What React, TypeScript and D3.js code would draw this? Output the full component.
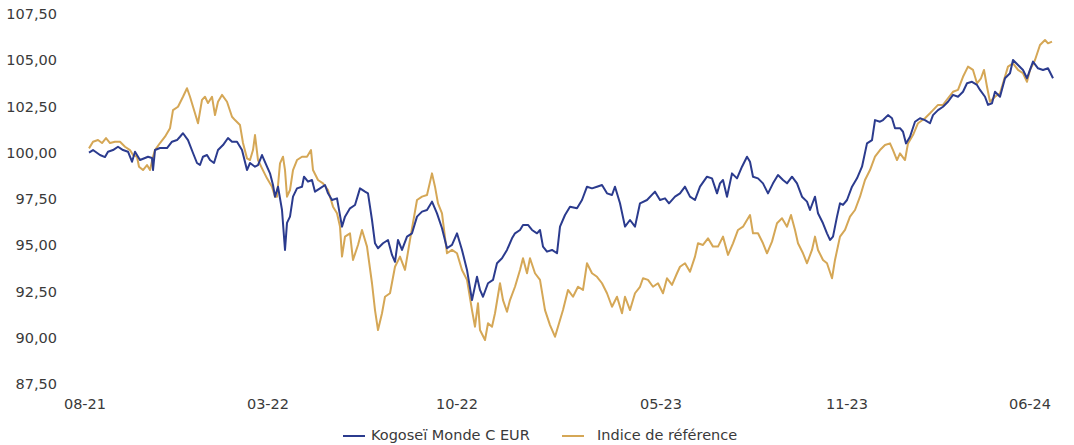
import React from "react";
import * as d3 from "d3";

// Category/tick labels on the time axis (position in days from start)
const tickLabels = ["08-21", "03-22", "10-22", "05-23", "11-23", "06-24"];
const tickDays = [0, 183, 372, 576, 762, 945];

// Y axis ticks
const yTicks = [87.5, 90, 92.5, 95, 97.5, 100, 102.5, 105, 107.5];

// Fund series: Kogoseï Monde C EUR
const fundDays = [4,8,15,20,23,28,33,38,43,47,50,55,60,63,67,68,70,75,82,87,92,95,98,103,108,112,115,118,122,125,129,133,138,143,147,152,157,162,165,170,173,177,182,185,188,190,193,197,200,202,205,208,212,217,219,223,227,230,235,240,243,247,252,257,260,265,270,275,280,283,287,290,293,298,303,307,310,313,317,322,327,332,337,342,347,352,357,362,367,372,377,382,387,392,395,398,403,408,412,417,422,427,430,435,438,443,447,452,455,458,462,467,472,475,480,485,492,497,502,507,512,517,522,527,530,535,540,545,550,555,562,570,575,580,584,590,595,600,605,610,615,622,627,632,635,638,642,647,652,657,662,665,668,673,678,683,688,693,698,702,707,712,717,722,725,730,733,738,742,745,748,752,755,758,762,767,772,777,782,787,790,795,798,803,807,810,815,818,821,825,830,835,840,845,848,853,858,863,868,873,878,882,887,892,895,900,903,907,910,915,920,925,928,933,938,942,945,948,953,958,963,968];
const fundValues = [100.06,100.2,99.93,99.82,100.11,100.2,100.38,100.2,100.11,99.57,100.11,99.66,99.77,99.84,99.77,99.12,100.2,100.31,100.31,100.65,100.74,100.92,101.11,100.74,100.04,99.5,99.39,99.84,99.93,99.66,99.5,100.2,100.47,100.85,100.65,100.65,100.2,99.12,99.5,99.3,99.39,99.93,99.3,98.94,98.31,97.68,98.22,96.96,94.8,96.26,96.6,97.68,98.13,98.22,98.76,98.49,98.58,97.95,98.13,98.31,97.86,97.5,97.59,96.06,96.6,97.05,97.23,98.13,97.95,97.86,96.42,95.16,94.89,95.16,95.34,94.53,94.16,95.34,94.8,95.52,95.7,96.6,96.87,96.96,97.41,96.78,95.97,94.89,95.07,95.7,94.8,93.72,92.09,93.35,92.64,92.27,93.0,93.18,94.08,94.35,94.8,95.43,95.7,95.88,96.15,96.15,95.88,95.7,95.88,94.98,94.71,94.8,94.62,96.06,96.69,97.14,97.05,97.5,98.22,98.13,98.22,98.31,97.86,97.77,98.22,97.32,96.06,96.42,96.06,97.32,97.5,97.95,97.5,97.59,97.32,97.68,97.86,98.22,97.68,97.5,98.22,98.76,98.67,97.86,98.4,98.58,97.68,98.94,98.67,99.3,99.84,99.57,98.76,98.67,98.4,97.86,98.4,98.85,98.58,98.4,98.76,98.4,97.68,97.41,96.96,97.68,96.78,96.24,95.7,95.34,95.52,96.6,97.32,97.23,97.5,98.22,98.67,99.3,100.56,100.74,101.82,101.73,101.82,102.09,101.92,101.38,101.38,101.19,100.56,100.92,101.73,101.92,101.82,101.65,102.09,102.36,102.54,102.81,103.18,103.08,103.35,103.81,103.89,103.72,103.45,103.08,102.64,102.73,103.35,103.08,104.08,104.35,105.07,104.8,104.53,104.08,104.53,104.98,104.62,104.53,104.62,104.08];

// Benchmark series: Indice de référence
const indexDays = [4,8,13,17,21,25,30,35,40,45,48,52,54,58,62,65,68,70,75,80,85,88,93,98,102,105,110,113,117,120,123,127,130,133,137,142,147,150,155,158,162,165,168,170,173,177,182,187,190,192,195,198,200,202,205,208,212,217,222,226,228,233,238,243,248,252,255,257,260,265,268,273,277,282,287,290,293,297,300,305,310,315,320,325,332,337,342,347,350,353,357,362,367,372,377,382,387,390,393,395,400,403,407,410,415,418,422,425,430,435,438,442,445,450,455,460,465,470,473,478,483,488,493,498,502,507,512,517,522,527,532,537,540,545,550,555,558,563,568,573,578,582,587,592,595,600,605,610,613,618,623,628,633,638,643,648,653,658,662,665,668,673,678,682,687,692,697,702,706,710,713,718,722,727,730,733,738,742,747,750,755,760,765,770,775,780,785,790,795,800,805,808,812,815,820,823,828,833,840,845,848,853,858,863,868,873,878,883,888,892,896,899,902,905,910,915,918,923,928,933,938,942,945,950,955,960,963,967];
const indexValues = [100.29,100.65,100.74,100.58,100.85,100.58,100.65,100.65,100.38,100.2,99.93,99.84,99.3,99.12,99.39,99.12,99.84,100.2,100.58,100.92,101.38,102.36,102.54,103.08,103.54,103.08,102.19,101.65,102.91,103.08,102.74,103.08,102.09,102.81,103.18,102.81,102.0,101.82,101.55,100.58,99.75,99.66,100.2,101.01,99.66,99.21,98.67,98.22,97.68,97.68,99.48,99.84,99.12,97.68,98.04,99.12,99.66,99.84,99.84,100.2,99.12,98.58,98.4,98.04,97.14,96.78,96.06,94.44,95.52,95.7,94.26,95.07,95.88,94.98,93.0,91.55,90.47,91.38,92.27,92.46,93.89,94.44,93.72,95.34,97.5,97.68,97.77,98.94,98.22,97.32,96.78,94.62,94.8,94.62,93.72,93.18,91.55,90.65,91.92,90.47,89.93,90.84,90.65,91.38,93.0,92.09,91.46,92.09,92.81,93.72,94.35,93.54,94.35,93.54,93.18,91.55,90.74,90.11,90.65,91.55,92.64,92.27,92.81,92.64,94.08,93.54,93.35,93.0,92.46,91.73,92.27,91.38,92.27,91.55,92.46,92.81,93.27,93.18,92.81,93.0,92.46,93.27,92.91,93.54,93.89,94.08,93.62,94.44,95.16,95.07,95.43,94.98,94.98,95.52,94.53,95.16,95.88,96.06,96.42,96.69,95.7,95.7,95.16,94.62,95.25,96.24,96.51,96.06,96.69,95.88,95.16,94.62,94.08,94.8,95.52,94.8,94.26,94.08,93.27,94.26,95.52,95.88,96.6,96.96,97.68,98.58,99.12,99.84,100.2,100.47,100.56,100.2,99.66,100.02,99.66,100.56,101.01,101.65,101.92,102.19,102.36,102.64,102.64,103.0,103.35,103.45,104.16,104.71,104.53,103.81,104.08,104.53,103.62,102.81,103.08,103.27,103.81,104.71,104.89,104.53,104.35,103.89,104.53,105.07,105.88,106.15,105.97,106.06];

const seriesNames = ["Kogoseï Monde C EUR", "Indice de référence"];
const seriesColors = ["#2B3B8E", "#D5A756"];

const W = 1074;
const H = 445;
const FONT = "'DejaVu Sans', sans-serif";

export default function App() {
  const x = d3.scaleLinear().domain([0, 1000]).range([85, 1085]);
  const y = d3.scaleLinear().domain([87.5, 107.5]).range([385, 15]);

  const line = d3
    .line<[number, number]>()
    .x((d) => x(d[0]))
    .y((d) => y(d[1]))
    .curve(d3.curveLinear);

  const fund: [number, number][] = fundDays.map((d, i) => [d, fundValues[i]]);
  const bench: [number, number][] = indexDays.map((d, i) => [d, indexValues[i]]);

  const fmt = (v: number) => v.toFixed(2).replace(".", ",");

  return (
    <svg
      width={W}
      height={H}
      style={{ position: "absolute", left: 0, top: 0, background: "#fff" }}
      fontFamily={FONT}
    >
      <rect x={0} y={0} width={W} height={H} fill="#fff" />
      {yTicks.map((t) => (
        <text
          key={t}
          x={57}
          y={y(t)}
          textAnchor="end"
          dominantBaseline="middle"
          fontSize={14.5}
          fill="#3a3a3a"
        >
          {fmt(t)}
        </text>
      ))}
      {tickLabels.map((l, i) => (
        <text
          key={l}
          x={x(tickDays[i])}
          y={405}
          textAnchor="middle"
          dominantBaseline="middle"
          fontSize={14.5}
          fill="#3a3a3a"
        >
          {l}
        </text>
      ))}
      <path d={line(bench) || ""} fill="none" stroke={seriesColors[1]} strokeWidth={2} strokeLinejoin="round" />
      <path d={line(fund) || ""} fill="none" stroke={seriesColors[0]} strokeWidth={2} strokeLinejoin="round" />
      {/* Legend */}
      <g>
        <line x1={343} x2={365} y1={436} y2={436} stroke={seriesColors[0]} strokeWidth={2} />
        <text x={371} y={436} dominantBaseline="middle" fontSize={14.5} fill="#3a3a3a">
          {seriesNames[0]}
        </text>
        <line x1={562} x2={584} y1={436} y2={436} stroke={seriesColors[1]} strokeWidth={2} />
        <text x={597} y={436} dominantBaseline="middle" fontSize={14.5} fill="#3a3a3a">
          {seriesNames[1]}
        </text>
      </g>
    </svg>
  );
}
